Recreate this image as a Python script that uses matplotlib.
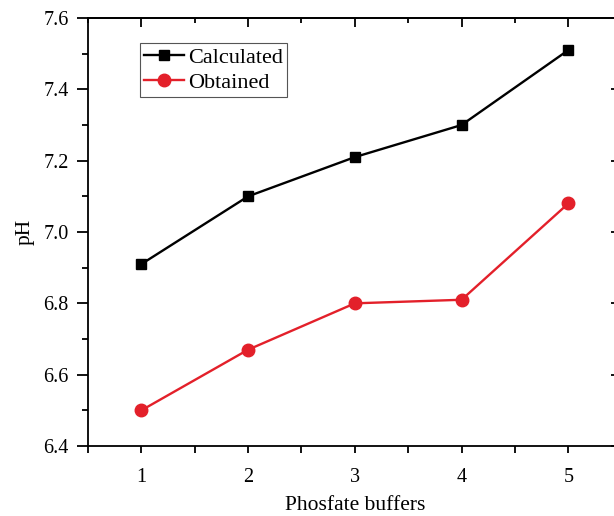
import matplotlib
matplotlib.use("Agg")
import matplotlib.pyplot as plt
from matplotlib.ticker import MultipleLocator

buffers = [1, 2, 3, 4, 5]
calculated = [6.91, 7.10, 7.21, 7.30, 7.51]
obtained = [6.50, 6.67, 6.80, 6.81, 7.08]

plt.rcParams['font.family'] = ['Liberation Serif', 'DejaVu Serif']

fig = plt.figure(figsize=(6.14, 5.16), dpi=100)
ax = fig.add_axes([88/614, 70/516, (621.7-88)/614, 428/516])

ax.plot(buffers, calculated, color='black', lw=1.7, marker='s', ms=7.5, label='Calculated')
ax.plot(buffers, obtained, color='#E3202A', lw=1.7, marker='o', ms=9, label='Obtained')

ax.set_xlim(0.5, 5.5)
ax.set_ylim(6.4, 7.6)
ax.xaxis.set_major_locator(MultipleLocator(1))
ax.xaxis.set_minor_locator(MultipleLocator(0.5))
ax.yaxis.set_minor_locator(MultipleLocator(0.1))
ax.set_yticks([6.4, 6.6, 6.8, 7.0, 7.2, 7.4, 7.6])
ax.set_yticklabels(['6.4', '6.6', '6.8', '7.0', '7.2', '7.4', '7.6'])

lw = 1.3
for s in ax.spines.values():
    s.set_linewidth(lw)

ax.tick_params(axis='x', which='both', direction='out', length=5, width=lw, labelsize=14.5, pad=11)
ax.tick_params(axis='y', which='major', direction='out', length=8, width=lw, labelsize=14.5, pad=6)
ax.tick_params(axis='y', which='minor', direction='out', length=4.5, width=lw)

top = ax.secondary_xaxis('top')
top.xaxis.set_major_locator(MultipleLocator(1))
top.xaxis.set_minor_locator(MultipleLocator(0.5))
top.tick_params(which='major', direction='in', length=6.5, width=lw, labeltop=False)
top.tick_params(which='minor', direction='in', length=3.5, width=lw)
top.spines['top'].set_linewidth(lw)

right = ax.secondary_yaxis('right')
right.yaxis.set_major_locator(MultipleLocator(0.2))
right.yaxis.set_minor_locator(MultipleLocator(0.1))
right.tick_params(which='major', direction='in', length=8, width=lw, labelright=False)
right.tick_params(which='minor', direction='in', length=4.5, width=lw)

ax.set_xlabel('Phosfate buffers', fontsize=15.5, labelpad=6)
ax.set_ylabel('pH', fontsize=15.5, labelpad=6)

leg = ax.legend(loc='upper left', bbox_to_anchor=(52/534, 1-25/428), fontsize=16,
                frameon=True, fancybox=False, edgecolor='#555555', framealpha=1,
                handlelength=1.8, handletextpad=0.15, borderpad=0.2, labelspacing=0.2,
                borderaxespad=0)
leg.get_frame().set_linewidth(0.8)

fig.savefig('out.png', dpi=100)
